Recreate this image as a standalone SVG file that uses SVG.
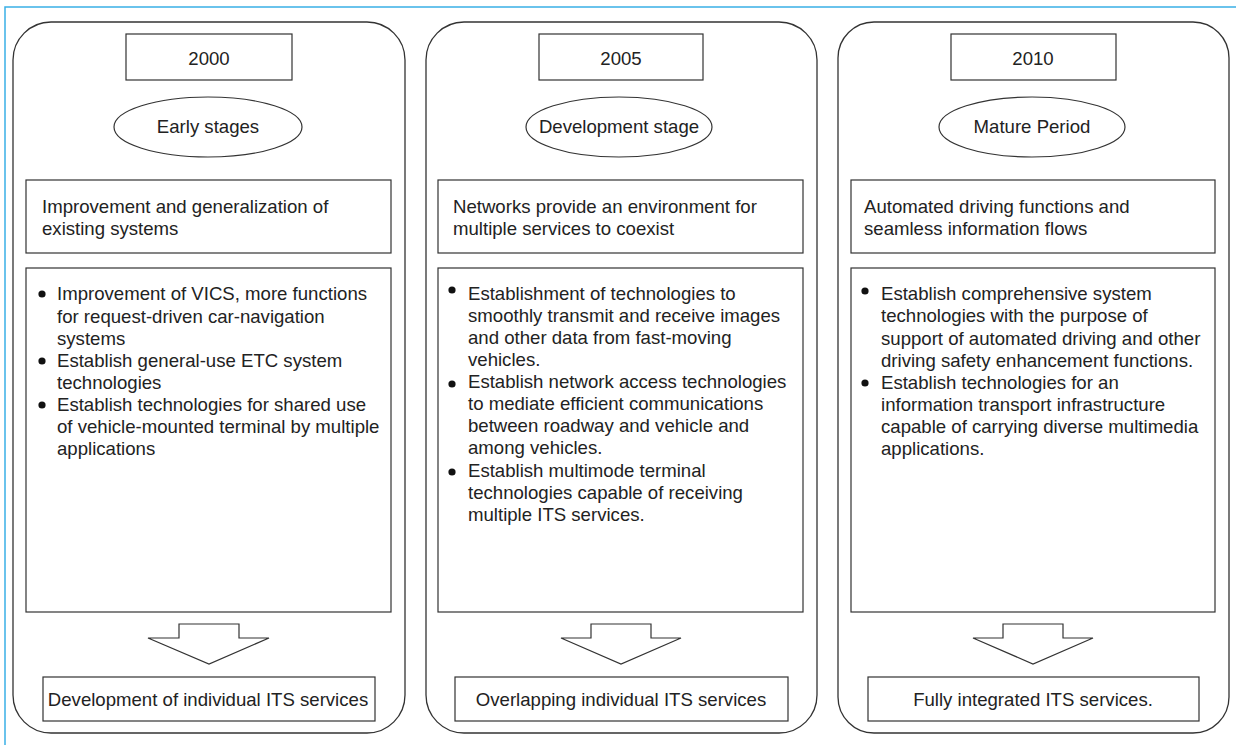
<svg xmlns="http://www.w3.org/2000/svg" width="1236" height="745" viewBox="0 0 1236 745">
<style>
.frame{fill:none;stroke:#3ab0e6;stroke-width:1.5}
.panel{fill:#fff;stroke:#333;stroke-width:1.3}
.box{fill:#fff;stroke:#333;stroke-width:1.2}
.arrow{fill:#fff;stroke:#333;stroke-width:1.2;stroke-linejoin:miter}
text{font-family:"Liberation Sans",Arial,sans-serif;font-size:18.6px;fill:#222}
.c{text-anchor:middle}
.dot{fill:#111}
</style>
<rect width="1236" height="745" fill="#fff"/>
<path class="frame" d="M5,745 V7 H1236"/>

<g id="panel-2000">
<rect class="panel" x="13" y="22" width="392" height="711" rx="38" ry="38"/>
<rect class="box" x="126" y="34" width="166" height="46"/>
<text class="c" x="209" y="65">2000</text>
<ellipse class="box" cx="208" cy="127" rx="94" ry="30"/>
<text class="c" x="208" y="133">Early stages</text>
<rect class="box" x="26" y="180" width="365" height="73"/>
<text x="42" y="213">Improvement and generalization of</text>
<text x="42" y="235">existing systems</text>
<rect class="box" x="26" y="268" width="365" height="344"/>
<circle class="dot" cx="42" cy="294" r="3.6"/>
<circle class="dot" cx="42" cy="361" r="3.6"/>
<circle class="dot" cx="42" cy="405" r="3.6"/>
<text x="57" y="300">Improvement of VICS, more functions</text>
<text x="57" y="323">for request-driven car-navigation</text>
<text x="57" y="345">systems</text>
<text x="57" y="367">Establish general-use ETC system</text>
<text x="57" y="389">technologies</text>
<text x="57" y="411">Establish technologies for shared use</text>
<text x="57" y="433">of vehicle-mounted terminal by multiple</text>
<text x="57" y="455">applications</text>
<rect class="box" x="43" y="677" width="332" height="44"/>
<text class="c" x="208" y="706">Development of individual ITS services</text>
</g>

<g id="panel-2005">
<rect class="panel" x="426" y="22" width="391" height="711" rx="38" ry="38"/>
<rect class="box" x="539" y="34" width="164" height="46"/>
<text class="c" x="621" y="65">2005</text>
<ellipse class="box" cx="619" cy="127" rx="93" ry="30"/>
<text class="c" x="619" y="133">Development stage</text>
<rect class="box" x="438" y="180" width="365" height="73"/>
<text x="453" y="213">Networks provide an environment for</text>
<text x="453" y="235">multiple services to coexist</text>
<rect class="box" x="438" y="268" width="365" height="344"/>
<circle class="dot" cx="452" cy="290" r="3.6"/>
<circle class="dot" cx="452" cy="384" r="3.6"/>
<circle class="dot" cx="452" cy="472" r="3.6"/>
<text x="468" y="300">Establishment of technologies to</text>
<text x="468" y="322">smoothly transmit and receive images</text>
<text x="468" y="344">and other data from fast-moving</text>
<text x="468" y="366">vehicles.</text>
<text x="468" y="388">Establish network access technologies</text>
<text x="468" y="410">to mediate efficient communications</text>
<text x="468" y="432">between roadway and vehicle and</text>
<text x="468" y="454">among vehicles.</text>
<text x="468" y="477">Establish multimode terminal</text>
<text x="468" y="499">technologies capable of receiving</text>
<text x="468" y="521">multiple ITS services.</text>
<rect class="box" x="455" y="677" width="333" height="44"/>
<text class="c" x="621" y="706">Overlapping individual ITS services</text>
</g>

<g id="panel-2010">
<rect class="panel" x="838" y="22" width="391" height="711" rx="36" ry="36"/>
<rect class="box" x="951" y="34" width="165" height="46"/>
<text class="c" x="1033" y="65">2010</text>
<ellipse class="box" cx="1032" cy="127" rx="93" ry="30"/>
<text class="c" x="1032" y="133">Mature Period</text>
<rect class="box" x="851" y="180" width="364" height="73"/>
<text x="864" y="213">Automated driving functions and</text>
<text x="864" y="235">seamless information flows</text>
<rect class="box" x="851" y="268" width="364" height="344"/>
<circle class="dot" cx="865" cy="291" r="3.6"/>
<circle class="dot" cx="865" cy="383" r="3.6"/>
<text x="881" y="300">Establish comprehensive system</text>
<text x="881" y="322">technologies with the purpose of</text>
<text x="881" y="345">support of automated driving and other</text>
<text x="881" y="367">driving safety enhancement functions.</text>
<text x="881" y="389">Establish technologies for an</text>
<text x="881" y="411">information transport infrastructure</text>
<text x="881" y="433">capable of carrying diverse multimedia</text>
<text x="881" y="455">applications.</text>
<rect class="box" x="868" y="677" width="331" height="44"/>
<text class="c" x="1033" y="706">Fully integrated ITS services.</text>
</g>

<g id="connectors">
<path class="arrow" d="M179,624 H239 V638 H269 L209,664 L148,638 H179 Z"/>
<path class="arrow" d="M591,624 H651 V638 H681 L621,664 L561,638 H591 Z"/>
<path class="arrow" d="M1003,624 H1063 V638 H1093 L1033,664 L973,638 H1003 Z"/>
</g>
</svg>
